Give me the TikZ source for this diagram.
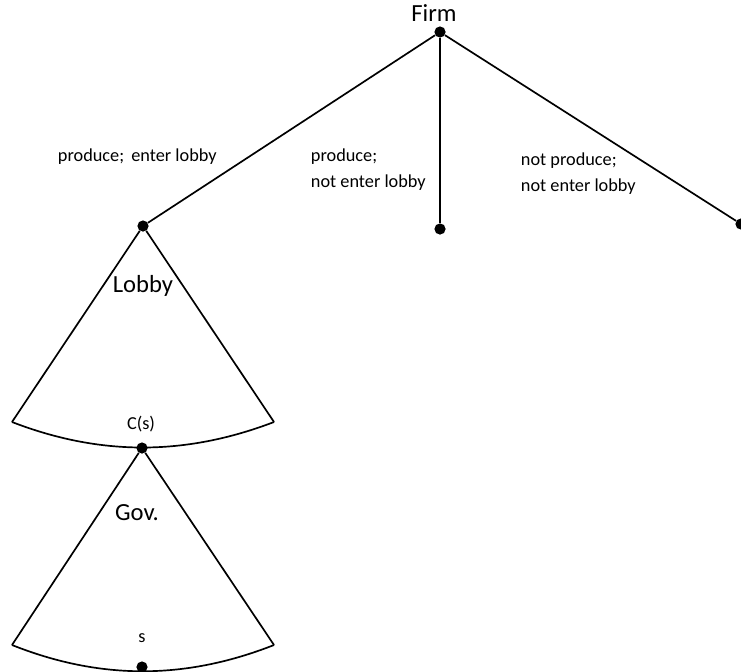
\documentclass[tikz,border=0pt]{standalone}
\usepackage{fontspec}
\setmainfont{Carlito}
\usetikzlibrary{positioning}

\begin{document}
\begin{tikzpicture}[x=0.025cm, y=-0.025cm]
  \tikzset{dot/.style = {shape=circle,fill=black,inner sep=0pt,minimum size=0.28cm}} % 점 스타일
  \tikzset{edge/.style = {line width=1.2pt}}
  \tikzset{big/.style = {font=\fontsize{17.5pt}{21}\selectfont}}
  \tikzset{small/.style = {font=\fontsize{13pt}{18.5}\selectfont, align=left, anchor=west}}
  \useasboundingbox (0,0) rectangle (741,671);

  % 노드들
  \node[dot] (0) at (440,32) {};
  \node[dot] (1) at (143,226) {};
  \node[dot] (2) at (440,229) {};
  \node[dot] (3) at (741,224) {};
  \node[dot] (4) at (142,448) {};
  \node[dot] (5) at (142,667) {};
  \coordinate (6) at (12,422);
  \coordinate (7) at (274,422);
  \coordinate (8) at (12,645);
  \coordinate (9) at (274,645);

  % 글자들
  \node[big] (firm) at (434,13) {Firm};
  \node[big] (lobby) at (143,286) {Lobby};
  \node[big] (gov) at (137,513) {Gov.};
  \node[font=\fontsize{13pt}{15}\selectfont] (cs) at (141,424) {C(s)};
  \node[font=\fontsize{13pt}{15}\selectfont] (s) at (142,638) {s};
  \node[small] (a) at (53,157) {produce;\, enter lobby};
  \node[small] (b) at (306,170) {produce;\\not enter lobby};
  \node[small] (c) at (516,174) {not produce;\\not enter lobby};

  % 간선들
  \draw[edge] (0) -- (1);
  \draw[edge] (0) -- (2);
  \draw[edge] (0) -- (3);
  \draw[edge] (1) -- (6);
  \draw[edge] (1) -- (7);
  \draw[edge] (6) .. controls (100,456) and (185,456) .. (7);
  \draw[edge] (4) -- (8);
  \draw[edge] (4) -- (9);
  \draw[edge] (8) .. controls (100,680) and (185,680) .. (9);

\end{tikzpicture}
\end{document}
